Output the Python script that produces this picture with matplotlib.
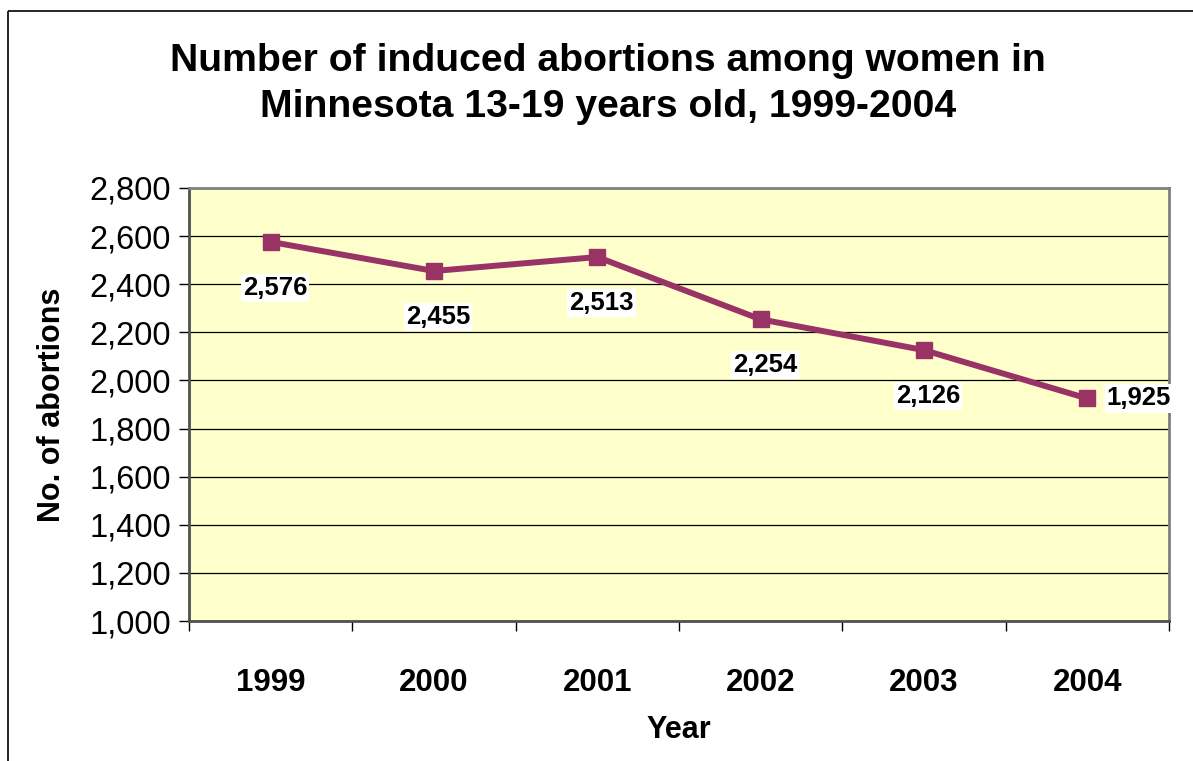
import matplotlib
matplotlib.use("Agg")
import matplotlib.pyplot as plt
from matplotlib.patches import Rectangle

years = ["1999", "2000", "2001", "2002", "2003", "2004"]
abortions = [2576, 2455, 2513, 2254, 2126, 1925]
yticks = list(range(1000, 2801, 200))

plt.rcParams['font.family'] = ['Liberation Sans', 'DejaVu Sans']

fig = plt.figure(figsize=(11.93, 7.61), dpi=100)
fig.patch.set_facecolor('white')

# outer frame
fig.add_artist(Rectangle((8/1193, 1 - 11/761), 1.0, -1.0, transform=fig.transFigure,
                         fill=False, edgecolor='black', linewidth=1.2, clip_on=False))

ax = fig.add_axes([189/1193, 1 - 621/761, (1169-189)/1193, (621-188)/761])
ax.set_facecolor('#FFFFCC')

x = list(range(len(years)))
ax.plot(x, abortions, color='#993366', linewidth=4.3, marker='s', markersize=11,
        markerfacecolor='#993366', markeredgecolor='#993366', zorder=3)

for i, v in enumerate(abortions):
    label = f"{v:,}"
    if i == len(abortions) - 1:
        ax.annotate(label, (i, v), xytext=(14, 0), textcoords='offset points',
                    ha='left', va='center', fontsize=18.5, fontweight='bold',
                    bbox=dict(facecolor='white', edgecolor='none', pad=1.5), zorder=4)
    else:
        ax.annotate(label, (i, v), xytext=(3, -33), textcoords='offset points',
                    ha='center', va='center', fontsize=18.5, fontweight='bold',
                    bbox=dict(facecolor='white', edgecolor='none', pad=1.5), zorder=4)

ax.set_xlim(-0.5, len(years) - 0.5)
ax.set_ylim(1000, 2800)
ax.set_yticks(yticks)
ax.set_yticklabels([f"{t:,}" for t in yticks], fontsize=23.5)
ax.yaxis.grid(True, color='black', linewidth=0.9)
ax.set_axisbelow(True)

ax.set_xticks(x)
ax.set_xticklabels(years, fontsize=22.5, fontweight='bold')
ax.set_xticks([i - 0.5 for i in range(len(years) + 1)], minor=True)
ax.tick_params(axis='x', which='major', length=0, pad=34)
ax.tick_params(axis='x', which='minor', length=7, width=1, color='black', direction='out')
ax.tick_params(axis='y', which='major', length=7, width=1, color='black', direction='out', pad=6)

for s in ['top', 'right']:
    ax.spines[s].set_color('#808080')
    ax.spines[s].set_linewidth(2)
for s in ['left', 'bottom']:
    ax.spines[s].set_color('#505050')
    ax.spines[s].set_linewidth(2)

ax.set_xlabel('Year', fontsize=22, fontweight='bold', labelpad=12)
ax.set_ylabel('No. of abortions', fontsize=22, fontweight='bold', labelpad=16)

fig.text(608/1193, 1 - 84/761, 'Number of induced abortions among women in\nMinnesota 13-19 years old, 1999-2004',
         ha='center', va='center', fontsize=28.2, fontweight='bold', linespacing=1.35)

fig.savefig('out.png', dpi=100)
